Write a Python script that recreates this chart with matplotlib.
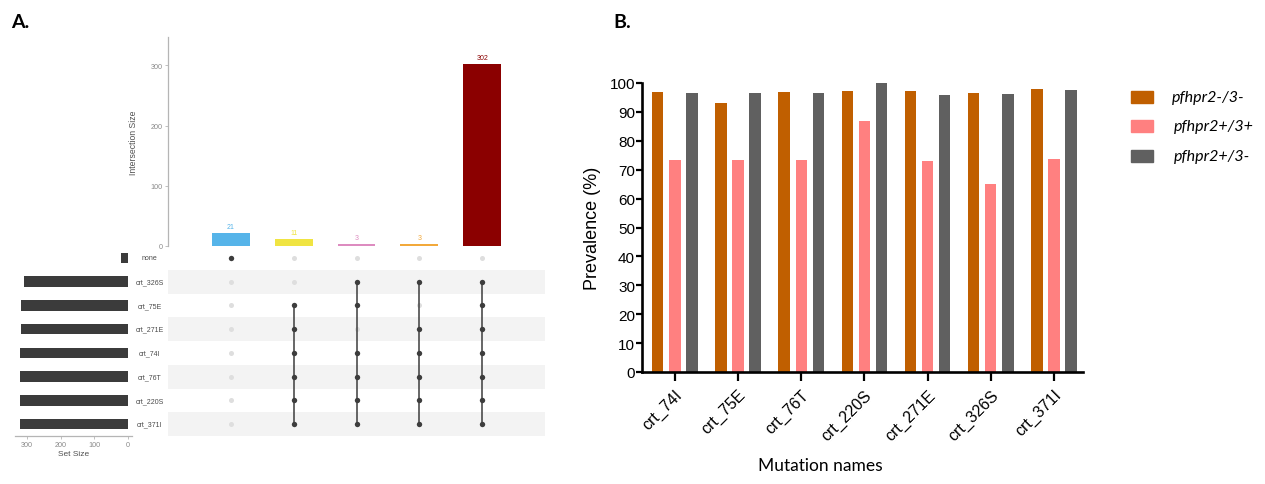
import numpy as np
import matplotlib
matplotlib.use("Agg")
import matplotlib.pyplot as plt
from matplotlib import transforms
from matplotlib.patches import Rectangle

# ---------------- Panel A data (UpSet plot) ----------------
set_names = ["none", "crt_326S", "crt_75E", "crt_271E", "crt_74I",
             "crt_76T", "crt_220S", "crt_371I"]
intersection_sizes = [21, 11, 3, 3, 302]
intersection_colors = ["#56B4E9", "#F0E442", "#DD8CC0", "#F2A93B", "#8B0000"]
# membership[row][col]: set row takes part in intersection col
membership = [
    [1, 0, 0, 0, 0],
    [0, 0, 1, 1, 1],
    [0, 1, 1, 0, 1],
    [0, 1, 0, 1, 1],
    [0, 1, 1, 1, 1],
    [0, 1, 1, 1, 1],
    [0, 1, 1, 1, 1],
    [0, 1, 1, 1, 1],
]

# ---------------- Panel B data (prevalence) ----------------
mutations = ["crt_74I", "crt_75E", "crt_76T", "crt_220S",
             "crt_271E", "crt_326S", "crt_371I"]
groups = ["pfhpr2-/3-", "pfhpr2+/3+", "pfhpr2+/3-"]
prev_neg_neg = [97.0, 93.0, 97.0, 97.2, 97.4, 96.5, 97.9]
prev_pos_pos = [73.5, 73.5, 73.5, 86.9, 72.9, 65.0, 73.7]
prev_pos_neg = [96.5, 96.5, 96.5, 100.0, 95.9, 96.2, 97.6]
group_colors = ["#C05F00", "#FF8080", "#606060"]

W, H = 1265, 485
fig = plt.figure(figsize=(W / 100, H / 100), dpi=100)


def fx(px):
    return px / W


def fy(py):
    return 1 - py / H


A_FONT = "Liberation Sans"
grey_line = "#b5b5b5"

# ---------------- Panel A ----------------
mem = np.array(membership)
sizes = np.array(intersection_sizes)
set_sizes = mem @ sizes
n_rows, n_cols = mem.shape
cols = np.arange(n_cols)
rows = np.arange(n_rows)

ax_bar = fig.add_axes([fx(168), fy(247), fx(545) - fx(168), fy(38) - fy(247)])
ax_mat = fig.add_axes([fx(168), fy(437), fx(545) - fx(168), fy(247) - fy(437)])
ax_set = fig.add_axes([fx(15), fy(437), fx(132) - fx(15), fy(247) - fy(437)])

# intersection bars
ax_bar.bar(cols, sizes, width=0.6, color=intersection_colors)
for c, v, col in zip(cols, sizes, intersection_colors):
    ax_bar.annotate(str(v), (c, v), xytext=(0, 2.5), textcoords="offset points",
                    ha="center", va="bottom", fontsize=5, color=col,
                    family=A_FONT)
ax_bar.set_xlim(-1, 5)
ax_bar.set_ylim(0, max(sizes) * 1.15)
ax_bar.set_yticks([0, 100, 200, 300])
ax_bar.set_xticks([])
for s in ["top", "right", "bottom"]:
    ax_bar.spines[s].set_visible(False)
ax_bar.spines["left"].set_color(grey_line)
ax_bar.spines["left"].set_linewidth(0.9)
ax_bar.tick_params(axis="y", length=2.2, width=0.6, color=grey_line,
                   labelsize=5.2, labelcolor="#8a8a8a", pad=1.5)
for lbl in ax_bar.get_yticklabels():
    lbl.set_family(A_FONT)
ax_bar.set_ylabel("Intersection Size", fontsize=6.2, color="#505050",
                  family=A_FONT, labelpad=9)
ax_bar.patch.set_alpha(0)

# matrix
ax_mat.set_xlim(-1, 5)
ax_mat.set_ylim(n_rows - 0.5, -0.5)
for r in rows:
    if r % 2 == 1:
        ax_mat.axhspan(r - 0.5, r + 0.5, color="#f3f3f3", lw=0, zorder=0)
xx, yy = np.meshgrid(cols, rows)
on = mem.astype(bool)
ax_mat.scatter(xx[~on], yy[~on], s=13, color="#dedede", lw=0, zorder=2)
for c in cols:
    r_on = rows[mem[:, c] == 1]
    if len(r_on) > 1:
        ax_mat.plot([c, c], [r_on.min(), r_on.max()], color="#3d3d3d",
                    lw=1.1, zorder=3)
ax_mat.scatter(xx[on], yy[on], s=15, color="#3d3d3d", lw=0, zorder=4)
ax_mat.axis("off")

# set size bars
ax_set.barh(rows, set_sizes, height=0.45, color="#3b3b3b")
ax_set.set_xlim(335, -12)
ax_set.set_ylim(n_rows - 0.5, -0.5)
ax_set.set_xticks([300, 200, 100, 0])
ax_set.set_yticks([])
for s in ["top", "right", "left"]:
    ax_set.spines[s].set_visible(False)
ax_set.spines["bottom"].set_color(grey_line)
ax_set.spines["bottom"].set_linewidth(0.9)
ax_set.tick_params(axis="x", length=2.2, width=0.6, color=grey_line,
                   labelsize=5.2, labelcolor="#8a8a8a", pad=1.5)
for lbl in ax_set.get_xticklabels():
    lbl.set_family(A_FONT)
ax_set.set_xlabel("Set Size", fontsize=6, color="#505050", family=A_FONT,
                  labelpad=1.5)
ax_set.patch.set_alpha(0)

# set names between the two lower panels
tr = transforms.blended_transform_factory(fig.transFigure, ax_mat.transData)
for r, name in zip(rows, set_names):
    fig.text(fx(149.5), r, name, transform=tr, ha="center", va="center",
             fontsize=5, color="#4a4a4a", family=A_FONT)

fig.text(fx(11), fy(22), "A.", fontsize=14, fontweight="bold",
         family="Lato", va="center", ha="left")

# ---------------- Panel B ----------------
axB = fig.add_axes([fx(642), fy(373), fx(1083) - fx(642), fy(84) - fy(373)])
x = np.arange(len(mutations))
bw = 0.18
offs = [-0.27, 0.0, 0.27]
for vals, off, col in zip([prev_neg_neg, prev_pos_pos, prev_pos_neg],
                          offs, group_colors):
    axB.bar(x + off, vals, width=bw, color=col, zorder=2)

axB.set_xlim(-0.52, 6.46)
axB.set_ylim(0, 100)
axB.set_yticks(np.arange(0, 101, 10))
axB.set_xticks(x)
axB.set_xticklabels(mutations, rotation=45, ha="right",
                    rotation_mode="anchor", family="Liberation Sans",
                    fontsize=11.5)
for lbl in axB.get_yticklabels():
    lbl.set_family("Liberation Sans")
for s in ["top", "right"]:
    axB.spines[s].set_visible(False)
for s in ["left", "bottom"]:
    axB.spines[s].set_linewidth(1.9)
axB.tick_params(axis="y", length=4, width=1.6, labelsize=11, pad=1)
axB.tick_params(axis="x", length=6.5, width=1.6, pad=4)
axB.set_ylabel("Prevalence (%)", fontsize=13, family="Liberation Sans",
               labelpad=6)

fig.text(fx(820), fy(466), "Mutation names", fontsize=12.5, family="Lato",
         ha="center", va="center")
fig.text(fx(613), fy(22), "B.", fontsize=14, fontweight="bold",
         family="Lato", va="center", ha="left")

# legend
leg_y = [98, 127, 157]
leg_tx = [1172, 1174, 1174]
for yy_, tx, col, name in zip(leg_y, leg_tx, group_colors, groups):
    fig.patches.append(Rectangle((fx(1131), fy(yy_ + 6)), fx(22), fy(0) - fy(12),
                                 transform=fig.transFigure, color=col))
    fig.text(fx(tx), fy(yy_), name, fontsize=11.5, family="Lato",
             style="italic", va="center", ha="left")

fig.savefig("out.png", dpi=100)
